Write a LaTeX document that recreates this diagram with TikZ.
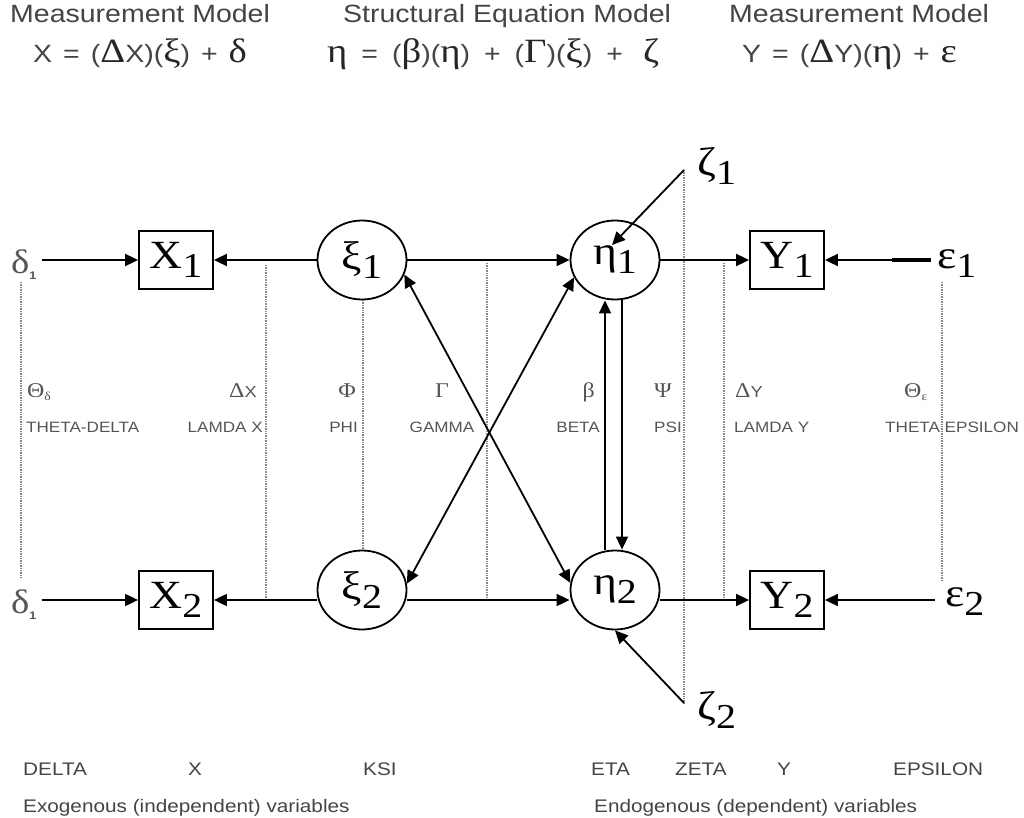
\documentclass[tikz,border=0pt]{standalone}
\usepackage{fontspec}
\setmainfont[FakeStretch=1.14]{Liberation Sans}
\newfontfamily\grk[FakeStretch=1.14]{Liberation Serif}
\usetikzlibrary{arrows.meta,shapes.geometric,calc}
\definecolor{txtgray}{HTML}{444444}
\definecolor{labgray}{HTML}{555555}
\definecolor{dotgray}{HTML}{888888}
\newcommand{\vlab}[2]{{\grk\fontsize{40}{40}\selectfont #1\raisebox{-9pt}{\fontsize{35}{35}\selectfont #2}}}
\newcommand{\gk}[1]{{\grk\fontsize{34}{34}\selectfont\color{black!85}#1}}
\newcommand{\gsub}[1]{\raisebox{-3pt}{\fontsize{12}{12}\selectfont #1}}
\newcommand{\wsp}[1]{\spaceskip=#1\relax}

\begin{document}
\begin{tikzpicture}[x=1pt, y=-1pt,
    obs/.style={draw, line width=1.8pt, minimum width=74pt, minimum height=58pt, inner sep=0pt},
    lat/.style={draw, ellipse, line width=1.8pt, minimum width=89pt, minimum height=79pt, inner sep=0pt},
    arr/.style={line width=1.8pt, -{Triangle[length=13pt,width=12pt]}},
    darr/.style={line width=1.8pt, {Triangle[length=13pt,width=12pt]}-{Triangle[length=13pt,width=12pt]}},
    guide/.style={dotgray, densely dotted, line width=1.4pt},
    headline/.style={anchor=base west, inner sep=0pt, text=txtgray, font=\fontsize{25}{25}\selectfont},
    eqn/.style={anchor=base west, inner sep=0pt, text=txtgray, font=\fontsize{25}{25}\selectfont},
    glab/.style={inner sep=0pt, text=labgray, font=\grk\fontsize{21}{21}\selectfont},
    mlab/.style={inner sep=0pt, text=labgray, font=\fontsize{15}{15}\selectfont},
    blab/.style={anchor=base west, inner sep=0pt, text=txtgray, font=\fontsize{18.2}{18.2}\selectfont}]
  \useasboundingbox (0,0) rectangle (1024,818);
  % headings
  \node[headline] (hx) at (10,23) {Measurement Model};
  \node[headline] (hs) at (343,23) {Structural Equation Model};
  \node[headline] (hy) at (729,23) {Measurement Model};
  \node[eqn] (eqx) at (33,63) {\wsp{11pt}X = (\gk{Δ}X)(\gk{ξ}) + \gk{δ}};
  \node[eqn] (eqs) at (327,63) {\wsp{14pt}\gk{η} = (\gk{β})(\gk{η}) + (\gk{Γ})(\gk{ξ}) +\hspace{20pt}\gk{ζ}};
  \node[eqn] (eqy) at (742,63) {\wsp{11pt}Y = (\gk{Δ}Y)(\gk{η}) + \gk{ε}};
  % guides
  \draw[guide] (21,282) -- (21,578);
  \draw[guide] (266,265) -- (266,598);
  \draw[guide] (363,300) -- (363,551);
  \draw[guide] (487,263) -- (487,600);
  \draw[guide] (684,170) -- (684,703);
  \draw[guide] (724,263) -- (724,600);
  \draw[guide] (942,282) -- (942,580);
  % variables
  \node[obs] (X1) at (176,260) {\vlab{X}{1}};
  \node[obs] (X2) at (176,600) {\vlab{X}{2}};
  \node[lat] (xi1) at (362,260) {\vlab{ξ}{1}};
  \node[lat] (xi2) at (362,590) {\vlab{ξ}{2}};
  \node[lat] (eta1) at (615,260) {\vlab{η}{1}};
  \node[lat] (eta2) at (615,590) {\vlab{η}{2}};
  \node[obs] (Y1) at (787,260) {\vlab{Y}{1}};
  \node[obs] (Y2) at (787,600) {\vlab{Y}{2}};
  \node[anchor=base west, inner sep=0pt, text=labgray] (del1) at (11,273)
    {{\grk\fontsize{34}{34}\selectfont δ}\raisebox{-6pt}{\fontsize{11}{11}\selectfont\bfseries 1}};
  \node[anchor=base west, inner sep=0pt, text=labgray] (del2) at (11,613)
    {{\grk\fontsize{34}{34}\selectfont δ}\raisebox{-6pt}{\fontsize{11}{11}\selectfont\bfseries 1}};
  \node[anchor=base west, inner sep=0pt] (eps1) at (937,268) {\vlab{ε}{1}};
  \node[anchor=base west, inner sep=0pt] (eps2) at (945,606) {\vlab{ε}{2}};
  \coordinate (z1) at (684,170);
  \coordinate (z2) at (684,703);
  \node[anchor=base west, inner sep=0pt] (zeta1) at (697,176) {\vlab{ζ}{1}};
  \node[anchor=base west, inner sep=0pt] (zeta2) at (697,719) {\vlab{ζ}{2}};
  % paths
  \draw[arr] ([xshift=5pt]del1.east |- X1) -- (X1);
  \draw[arr] ([xshift=5pt]del2.east |- X2) -- (X2);
  \draw[arr] (xi1) -- (X1);
  \draw[arr] (xi2.west |- X2) -- (X2);
  \draw[arr] (xi1) -- (eta1);
  \draw[arr] (xi2.east |- X2) -- (eta2.west |- X2);
  \draw[darr] (xi1.-19) -- (eta2.171);
  \draw[darr] (xi2.8) -- (eta1.203);
  \draw[arr] ([xshift=-10pt]eta2.north) -- ([xshift=-10pt]eta1.south);
  \draw[arr] ([xshift=7pt]eta1.south) -- ([xshift=7pt]eta2.north);
  \draw[arr] (z1) -- ($(eta1.center)+(-3,-15)$);
  \draw[arr] (z2) -- (eta2.south);
  \draw[arr] (eta1) -- (Y1);
  \draw[arr] (eta2.east |- Y2) -- (Y2);
  \draw[arr] ([xshift=-6pt]eps1.west |- Y1) -- (Y1);
  \draw[line width=3.2pt] ([xshift=-6pt]eps1.west |- Y1) -- ++(-39,0);
  \draw[arr] ([xshift=-10pt]eps2.west |- Y2) -- (Y2);
  % matrix labels
  \node[glab, anchor=base west] (thd) at (27,397) {Θ\gsub{δ}};
  \node[mlab, anchor=base west] (thdn) at (26,432) {THETA-DELTA};
  \node[glab, anchor=base east] (lx) at (257,397) {Δ{\rmfamily\fontsize{16}{16}\selectfont X}};
  \node[mlab, anchor=base east] (lxn) at (263,432) {LAMDA X};
  \node[glab, anchor=base east] (phi) at (356,397) {Φ};
  \node[mlab, anchor=base east] (phin) at (358,432) {PHI};
  \node[glab, anchor=base] (gam) at (442,397) {Γ};
  \node[mlab, anchor=base] (gamn) at (442,432) {GAMMA};
  \node[glab, anchor=base east] (bet) at (595,397) {β};
  \node[mlab, anchor=base east] (betn) at (600,432) {BETA};
  \node[glab, anchor=base west] (psi) at (654,397) {Ψ};
  \node[mlab, anchor=base west] (psin) at (654,432) {PSI};
  \node[glab, anchor=base west] (ly) at (735,397) {Δ{\rmfamily\fontsize{16}{16}\selectfont Y}};
  \node[mlab, anchor=base west] (lyn) at (734,432) {LAMDA Y};
  \node[glab, anchor=base west] (the) at (904,397) {Θ\gsub{ε}};
  \node[mlab, anchor=base west] (then) at (885,432) {THETA EPSILON};
  % bottom rows
  \foreach \t/\x in {DELTA/23, X/188, KSI/363, ETA/591, ZETA/675, Y/777, EPSILON/893}
    \node[blab] (b\t) at (\x,775) {\t};
  \node[blab] (exo) at (23,812) {Exogenous (independent) variables};
  \node[blab] (endo) at (594,812) {Endogenous (dependent) variables};
\end{tikzpicture}
\end{document}
